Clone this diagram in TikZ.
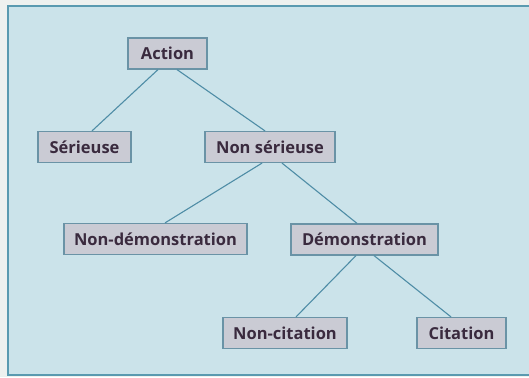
\documentclass[tikz,border=0pt]{standalone}
\usepackage{fontspec}
\setmainfont{Open Sans}
\usetikzlibrary{calc}
\definecolor{pagebg}{HTML}{EEF1EF}
\definecolor{panelbg}{HTML}{CBE3EA}
\definecolor{framec}{HTML}{5A9AB0}
\definecolor{boxfill}{HTML}{CACBD4}
\definecolor{boxdraw}{HTML}{6A93A6}
\definecolor{txt}{HTML}{3A2A3E}
\definecolor{linec}{HTML}{4F8DA6}
\tikzset{
  concept/.style={draw=boxdraw, line width=1.2pt, fill=boxfill, text=txt,
    font=\bfseries\fontsize{16.5}{18}\selectfont, minimum height=31pt,
    inner ysep=0pt, inner xsep=0pt, anchor=center},
  link/.style={draw=linec, line width=1.1pt}
}
\begin{document}
\begin{tikzpicture}[x=1pt,y=-1pt]
\useasboundingbox (0,0) rectangle (529,377);
\fill[pagebg] (0,0) rectangle (529,377);
\begin{scope}
\clip (0,0) rectangle (529,377);
\draw[framec, line width=1.6pt, fill=panelbg] (8,6) rectangle (535,375);
\end{scope}
\node[concept, minimum width=79pt]  (act) at (167.5,53.5) {Action};
\node[concept, minimum width=93pt]  (ser) at (84.5,147) {Sérieuse};
\node[concept, minimum width=130pt] (nser) at (270,147) {Non sérieuse};
\node[concept, minimum width=183pt] (ndem) at (155.5,239) {Non-démonstration};
\node[concept, minimum width=147pt] (dem) at (364.5,239.5) {Démonstration};
\node[concept, minimum width=124pt] (ncit) at (285,333) {Non-citation};
\node[concept, minimum width=89pt]  (cit) at (461.5,333) {Citation};
\draw[link] ([xshift=-9.5pt]act.south) -- ([xshift=7.5pt]ser.north);
\draw[link] ([xshift=9.5pt]act.south) -- ([xshift=-5pt]nser.north);
\draw[link] ([xshift=-8pt]nser.south) -- ([xshift=9.5pt]ndem.north);
\draw[link] ([xshift=12pt]nser.south) -- ([xshift=-7.5pt]dem.north);
\draw[link] ([xshift=-8.5pt]dem.south) -- ([xshift=11pt]ncit.north);
\draw[link] ([xshift=9.5pt]dem.south) -- ([xshift=-10.5pt]cit.north);
\end{tikzpicture}
\end{document}
